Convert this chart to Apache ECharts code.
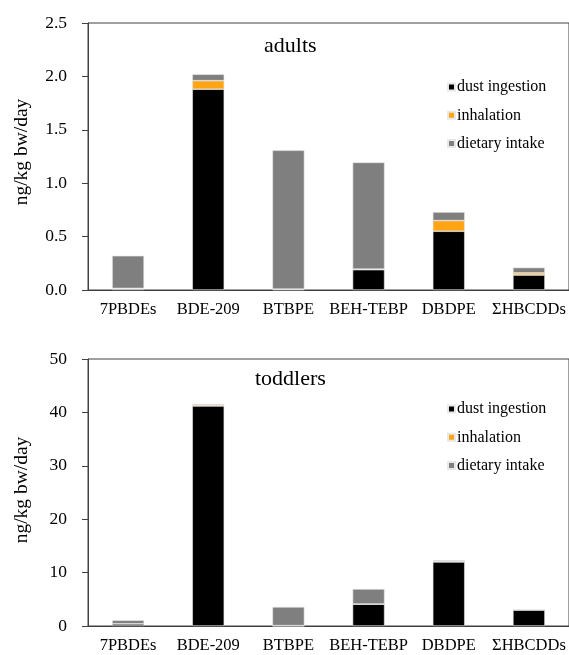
<!DOCTYPE html>
<html><head><meta charset="utf-8">
<script src="https://cdn.jsdelivr.net/npm/echarts@6/dist/echarts.min.js"></script>
<style>html,body{margin:0;padding:0;background:#fff}#c{width:569px;height:655px}</style>
</head><body><div id="c"></div>
<script>
const categories = ['7PBDEs','BDE-209','BTBPE','BEH-TEBP','DBDPE','ΣHBCDDs'];
const seriesNames = ['dust ingestion','inhalation','dietary intake'];
const adultDust = [0.01, 1.88, 0.005, 0.19, 0.55, 0.14];
const adultInhal = [0.005, 0.08, 0.003, 0.005, 0.10, 0.02];
const adultDiet = [0.305, 0.06, 1.30, 1.00, 0.08, 0.05];
const toddDust = [0.4, 41.2, 0.05, 4.1, 12.0, 3.0];
const toddInhal = [0.02, 0.2, 0.02, 0.02, 0.1, 0.03];
const toddDiet = [0.65, 0.2, 3.5, 2.8, 0.2, 0.05];
const adultTicks = [0, 2.5, 0.5];
const toddTicks = [0, 50, 10];
const yName = 'ng/kg bw/day';

const colors = ['#000000','#FFA514','#7F7F7F'];
const FONT = 'Liberation Serif';
const axisColor = '#404040';

function xAx(gi){
  return {type:'category', gridIndex:gi, data:categories,
    axisLine:{lineStyle:{color:axisColor}}, axisTick:{show:false},
    axisLabel:{fontFamily:FONT, fontSize:16.5, color:'#000', margin:11, interval:0}};
}
function yAx(gi, t, dec){
  return {type:'value', gridIndex:gi, min:t[0], max:t[1], interval:t[2],
    axisLine:{show:true, lineStyle:{color:axisColor}},
    axisTick:{show:true, length:6, lineStyle:{color:axisColor}},
    splitLine:{show:false},
    axisLabel:{fontFamily:FONT, fontSize:17.5, color:'#000', margin:21,
      formatter: v => v.toFixed(dec)}};
}
function mk(gi, arrs){
  return arrs.map((d,i)=>({name:seriesNames[i], type:'bar', stack:'s'+gi,
    xAxisIndex:gi, yAxisIndex:gi, data:d, barWidth:32,
    itemStyle:{color:colors[i], borderColor:'#e8e8e8', borderWidth:0.6}}));
}
function leg(top){
  return {data:seriesNames, orient:'vertical', left:442, top:top, icon:'rect',
    itemWidth:7, itemHeight:7, itemGap:12.3, selectedMode:false,
    textStyle:{fontFamily:FONT, fontSize:16, color:'#000', padding:[0,0,0,-3]}};
}
function yTitle(cy){
  return {type:'text', x:22, y:cy, rotation:Math.PI/2,
    style:{text:yName, fontFamily:FONT, fontSize:19.5, fill:'#000', align:'center', verticalAlign:'middle'}};
}
const chart = echarts.init(document.getElementById('c'), null, {renderer:'canvas'});
chart.setOption({
  animation:false,
  backgroundColor:'#fff',
  textStyle:{fontFamily:FONT},
  title:[
    {text:'adults', left:259, top:30, textStyle:{fontFamily:FONT, fontSize:22, fontWeight:'normal', color:'#000'}},
    {text:'toddlers', left:250, top:363, textStyle:{fontFamily:FONT, fontSize:22, fontWeight:'normal', color:'#000'}}
  ],
  legend:[leg(74), leg(396)],
  graphic:[yTitle(152), yTitle(490)],
  grid:[
    {left:88, right:-2, top:23, height:267, show:true, borderColor:axisColor, borderWidth:1},
    {left:88, right:-2, top:359, height:267, show:true, borderColor:axisColor, borderWidth:1}
  ],
  xAxis:[xAx(0), xAx(1)],
  yAxis:[yAx(0, adultTicks, 1), yAx(1, toddTicks, 0)],
  series:[...mk(0,[adultDust,adultInhal,adultDiet]), ...mk(1,[toddDust,toddInhal,toddDiet])]
});
</script></body></html>
